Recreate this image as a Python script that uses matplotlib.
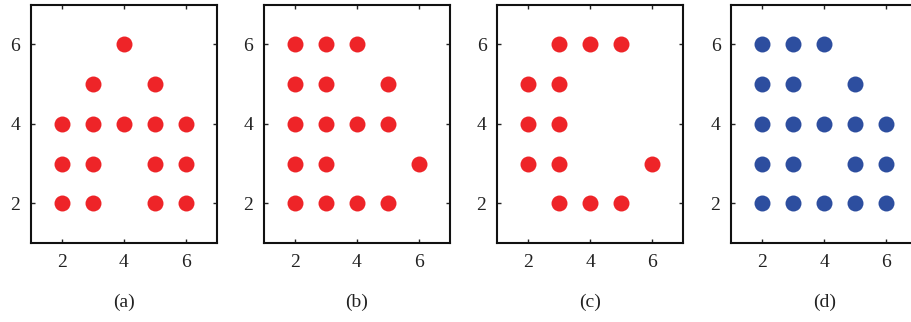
import matplotlib
matplotlib.use("Agg")
import matplotlib.pyplot as plt

# Data
a_x = [4, 3, 5, 2, 3, 4, 5, 6, 2, 3, 5, 6, 2, 3, 5, 6]
a_y = [6, 5, 5, 4, 4, 4, 4, 4, 3, 3, 3, 3, 2, 2, 2, 2]
b_x = [2, 3, 4, 2, 3, 5, 2, 3, 4, 5, 2, 3, 6, 2, 3, 4, 5]
b_y = [6, 6, 6, 5, 5, 5, 4, 4, 4, 4, 3, 3, 3, 2, 2, 2, 2]
c_x = [3, 4, 5, 2, 3, 2, 3, 2, 3, 6, 3, 4, 5]
c_y = [6, 6, 6, 5, 5, 4, 4, 3, 3, 3, 2, 2, 2]
d_x = [2, 3, 4, 2, 3, 5, 2, 3, 4, 5, 6, 2, 3, 5, 6, 2, 3, 4, 5, 6]
d_y = [6, 6, 6, 5, 5, 5, 4, 4, 4, 4, 4, 3, 3, 3, 3, 2, 2, 2, 2, 2]
panel_labels = ["(a)", "(b)", "(c)", "(d)"]
ticks = [2, 4, 6]

red = "#EE2428"
blue = "#2D4E9F"
panels = [(a_x, a_y, red), (b_x, b_y, red), (c_x, c_y, red), (d_x, d_y, blue)]

plt.rcParams['font.family'] = ['Liberation Serif', 'DejaVu Serif']

fig = plt.figure(figsize=(9.12, 3.22), dpi=100)
W, H = 912.0, 322.0
lefts = [31, 264, 497.5, 731.5]
width = 186
top, bottom = 4.5, 243

for i, ((xs, ys, col), lab) in enumerate(zip(panels, panel_labels)):
    ax = fig.add_axes([lefts[i] / W, (H - bottom) / H, width / W, (bottom - top) / H])
    ax.plot(xs, ys, 'o', color=col, markersize=11.5, markeredgewidth=0, clip_on=False)
    ax.set_xlim(1, 7)
    ax.set_ylim(1, 7)
    ax.set_xticks(ticks)
    ax.set_yticks(ticks)
    ax.tick_params(direction='in', length=3, width=1, top=True, right=True,
                   labelsize=14, pad=8, colors='#222222', labelcolor='#222222')
    for s in ax.spines.values():
        s.set_linewidth(1.5)
        s.set_color('#111111')
    ax.text(0.5, -0.25, lab, transform=ax.transAxes, ha='center', va='center',
            fontsize=14, color='#222222')

fig.savefig("out.png", dpi=100)
